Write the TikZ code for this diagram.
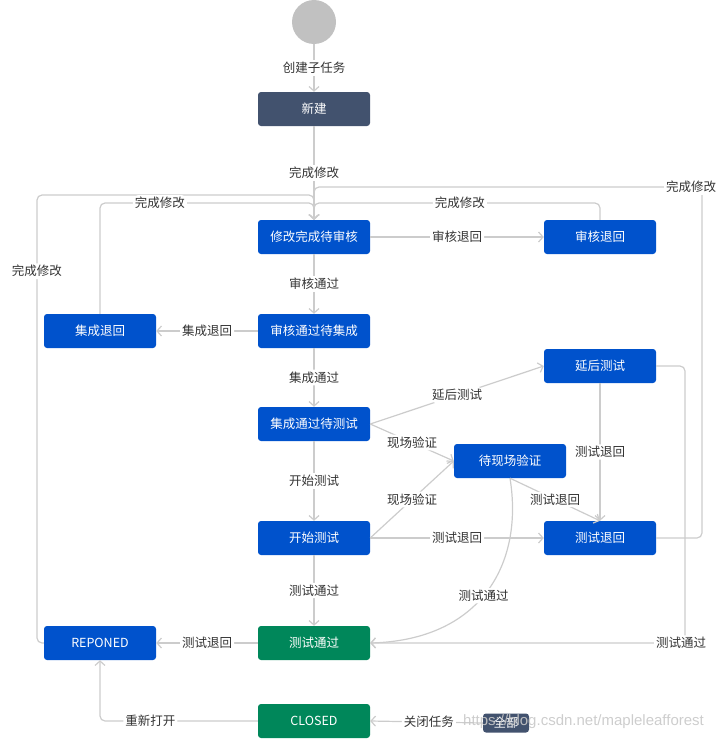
\documentclass[tikz,border=0pt]{standalone}
\usepackage{fontspec}
\setmainfont{Noto Sans CJK SC}
\newfontfamily\wmfont{Liberation Sans}
\usetikzlibrary{arrows.meta}
\definecolor{boxblue}{HTML}{0052CC}
\definecolor{boxdark}{HTML}{42526E}
\definecolor{boxgreen}{HTML}{00875A}
\definecolor{linegray}{HTML}{CCCCCC}
\definecolor{txtgray}{HTML}{333333}
\definecolor{startgray}{HTML}{C1C1C1}
\definecolor{wmgray}{HTML}{C8C8C8}
\begin{document}
\begin{tikzpicture}[x=1pt,y=-1pt,
  box/.style={rectangle, rounded corners=3pt, minimum width=112pt, minimum height=34pt,
    text=white, font=\fontsize{12.5}{14}\selectfont, inner sep=0pt},
  bluebox/.style={box, fill=boxblue},
  darkbox/.style={box, fill=boxdark},
  greenbox/.style={box, fill=boxgreen},
  startnode/.style={circle, fill=startgray, minimum size=44pt, inner sep=0pt},
  lbl/.style={fill=white, text=txtgray, font=\fontsize{12.5}{14}\selectfont, inner sep=2pt},
  conn/.style={draw=linegray, line width=1.2pt, rounded corners=5pt,
    -{Straight Barb[length=4.5pt,width=10pt,line width=1.2pt]}}
]
\useasboundingbox (0,0) rectangle (727,739);
% nodes
\node[startnode] (s) at (314,22) {};
\node[darkbox] (xj) at (314,109) {新建};
\node[bluebox] (xg) at (314,237) {修改完成待审核};
\node[bluebox] (shth) at (600,237) {审核退回};
\node[bluebox] (shtg) at (314,331) {审核通过待集成};
\node[bluebox] (jcth) at (100,331) {集成退回};
\node[bluebox] (jctg) at (314,424) {集成通过待测试};
\node[bluebox] (yh) at (600,366) {延后测试};
\node[bluebox] (dxc) at (510,461) {待现场验证};
\node[bluebox] (ks) at (314,538) {开始测试};
\node[bluebox] (csth) at (600,538) {测试退回};
\node[greenbox] (cstg) at (314,643) {测试通过};
\node[bluebox] (rep) at (100,643) {REPONED};
\node[greenbox] (cl) at (314,721) {CLOSED};
\node[darkbox, minimum width=46pt, minimum height=19pt] (qb) at (506,723) {全部};
\coordinate (jr) at (685,366);
\coordinate (jrb) at (685,643);
\coordinate (cr) at (702,538);
\coordinate (crt) at (702,187);
\coordinate (top1) at (314,187);
\coordinate (lo) at (37,643);
\coordinate (lot) at (37,195);
\coordinate (top2) at (314,195);
\coordinate (jt) at (100,203);
\coordinate (top3) at (314,203);
\coordinate (st) at (600,203);
\coordinate (cb) at (100,721);
% connectors
\draw[conn] (s) -- node[lbl] {创建子任务} (xj);
\draw[conn] (xj) -- node[lbl] {完成修改} (xg);
\draw[conn] (xg) -- node[lbl] {审核退回} (shth);
\draw[conn] (xg) -- node[lbl] {审核通过} (shtg);
\draw[conn] (shtg) -- node[lbl] {集成退回} (jcth);
\draw[conn] (shtg) -- node[lbl] {集成通过} (jctg);
\draw[conn] (jctg.east) -- node[lbl] {延后测试} (yh.west);
\draw[conn] (jctg.east) -- node[lbl] {现场验证} (dxc.west);
\draw[conn] (jctg) -- node[lbl] {开始测试} (ks);
\draw[conn] (ks.east) -- node[lbl] {现场验证} (dxc.west);
\draw[conn] (ks) -- node[lbl] {测试退回} (csth);
\draw[conn] (yh) -- node[lbl] {测试退回} (csth);
\draw[conn] (dxc.south) -- node[lbl] {测试退回} (csth.north);
\draw[conn] (ks) -- node[lbl] {测试通过} (cstg);
\draw[conn] (dxc.south) .. controls (524,565) and (480,640) .. node[lbl, pos=0.52] {测试通过} (cstg.east);
\draw[conn] (yh.east) -- (jr) -- (jrb) node[lbl, xshift=-4pt] {测试通过} -- (cstg.east);
\draw[conn] (csth.east) -- (cr) -- (crt) node[lbl, xshift=-11pt] {完成修改} -- (top1) -- (xg.north);
\draw[conn] (rep.west) -- (lo) -- node[lbl, pos=0.83] {完成修改} (lot) -- (top2) -- (xg.north);
\draw[conn] (jcth.north) -- (jt) -- node[lbl, pos=0.28] {完成修改} (top3) -- (xg.north);
\draw[conn] (shth.north) -- (st) -- node[lbl, pos=0.49] {完成修改} (top3) -- (xg.north);
\draw[conn] (cstg) -- node[lbl] {测试退回} (rep);
\draw[conn] (cl.west) -- node[lbl, pos=0.68] {重新打开} (cb) -- (rep.south);
\draw[conn] (qb.west) -- node[lbl, pos=0.48] {关闭任务} (cl.east);
% watermark
\node[text=wmgray, opacity=0.9, font=\wmfont\fontsize{15}{17}\selectfont, inner sep=0pt, anchor=west] (wm) at (463,722) {https://blog.csdn.net/mapleleafforest};
\end{tikzpicture}
\end{document}
